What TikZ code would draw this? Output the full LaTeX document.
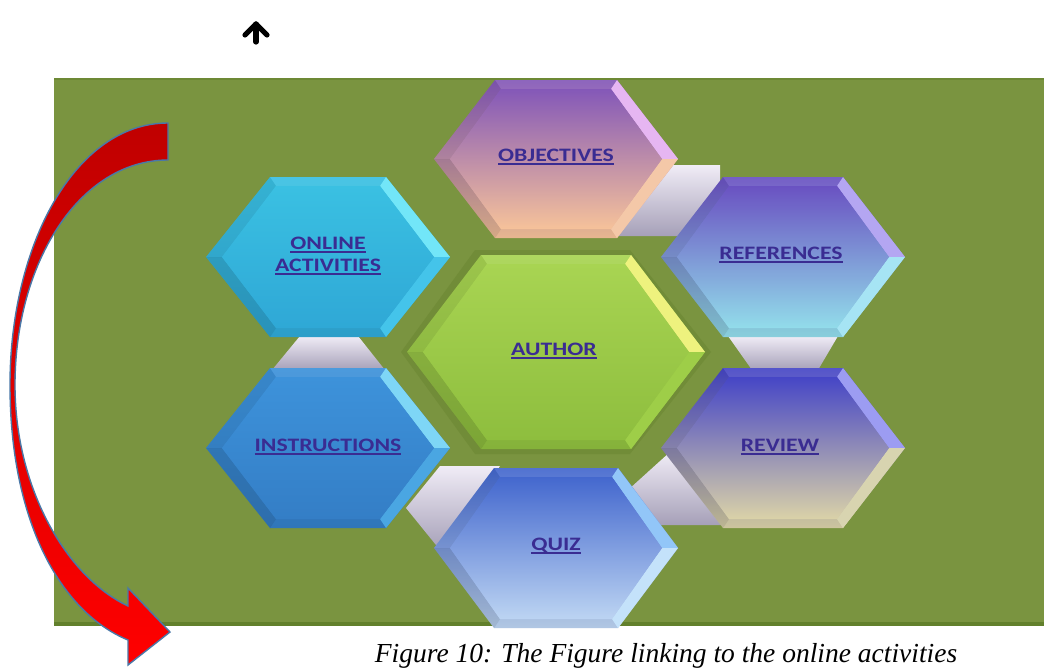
\documentclass[tikz,border=0pt]{standalone}
\usepackage{fontspec}
\setmainfont{Liberation Serif}
\newfontfamily\hexfont[FakeStretch=1.25]{Carlito}
\usetikzlibrary{arrows.meta,calc}
\definecolor{bggreen}{HTML}{7A9440}
\definecolor{bgline}{HTML}{62802C}
\definecolor{lblcol}{HTML}{3A2C92}
\definecolor{brtop}{HTML}{F0ECF6}
\definecolor{brbot}{HTML}{A6A0B8}
\definecolor{arrline}{HTML}{4A78A8}
\definecolor{arrdark}{HTML}{C00000}
\definecolor{arrlight}{HTML}{FF0000}
\definecolor{objT}{HTML}{8458B8}\definecolor{objB}{HTML}{F6C29A}\definecolor{objU}{HTML}{E6B6F2}\definecolor{objL}{HTML}{F4C8A8}
\definecolor{onlT}{HTML}{3AC0E2}\definecolor{onlB}{HTML}{2FA8D6}\definecolor{onlU}{HTML}{72E6F8}\definecolor{onlL}{HTML}{44C4EA}
\definecolor{insT}{HTML}{3D92DA}\definecolor{insB}{HTML}{347EC6}\definecolor{insU}{HTML}{7ED6F6}\definecolor{insL}{HTML}{4AA6E2}
\definecolor{refT}{HTML}{6A52C2}\definecolor{refB}{HTML}{92DCEA}\definecolor{refU}{HTML}{B4A6F2}\definecolor{refL}{HTML}{A6E4F4}
\definecolor{revT}{HTML}{4646C6}\definecolor{revB}{HTML}{DAD2A8}\definecolor{revU}{HTML}{9C9CF2}\definecolor{revL}{HTML}{D8D4B0}
\definecolor{quiT}{HTML}{4468CE}\definecolor{quiB}{HTML}{BCD4F2}\definecolor{quiU}{HTML}{92C6F8}\definecolor{quiL}{HTML}{C4E2FA}
\definecolor{autT}{HTML}{A8D452}\definecolor{autB}{HTML}{8EBE3E}\definecolor{autU}{HTML}{EEF27E}\definecolor{autL}{HTML}{9ECE48}
\definecolor{autS}{HTML}{5E7A26}
% cx cy a b c top bottom upper-right lower-right
\newcommand\hexa[9]{%
  \path[top color=#6,bottom color=#7] ({#1-#3},#2) -- ({#1-#5},{#2-#4}) -- ({#1+#5},{#2-#4}) -- ({#1+#3},#2) -- ({#1+#5},{#2+#4}) -- ({#1-#5},{#2+#4}) -- cycle;
  \fill[black,opacity=.07] ({#1-#3},#2) -- ({#1-#5},{#2-#4}) -- ({#1-#5+6},{#2-#4+9}) -- ({#1-#3+16},#2) -- cycle;
  \fill[black,opacity=.13] ({#1-#3},#2) -- ({#1-#5},{#2+#4}) -- ({#1-#5+6},{#2+#4-9}) -- ({#1-#3+16},#2) -- cycle;
  \fill[black,opacity=.06] ({#1-#5},{#2+#4}) -- ({#1+#5},{#2+#4}) -- ({#1+#5-6},{#2+#4-9}) -- ({#1-#5+6},{#2+#4-9}) -- cycle;
  \fill[white,opacity=.08] ({#1-#5},{#2-#4}) -- ({#1+#5},{#2-#4}) -- ({#1+#5-6},{#2-#4+9}) -- ({#1-#5+6},{#2-#4+9}) -- cycle;
  \fill[#8] ({#1+#5},{#2-#4}) -- ({#1+#3},#2) -- ({#1+#3-16},#2) -- ({#1+#5-6},{#2-#4+9}) -- cycle;
  \fill[#9] ({#1+#3},#2) -- ({#1+#5},{#2+#4}) -- ({#1+#5-6},{#2+#4-9}) -- ({#1+#3-16},#2) -- cycle;
  \path[top color=#6,bottom color=#7] ({#1-#3+16},#2) -- ({#1-#5+6},{#2-#4+9}) -- ({#1+#5-6},{#2-#4+9}) -- ({#1+#3-16},#2) -- ({#1+#5-6},{#2+#4-9}) -- ({#1-#5+6},{#2+#4-9}) -- cycle;
}
\newcommand\hexul[1]{\setbox0\hbox{#1}\rlap{\rule[-3.2pt]{\wd0}{1.8pt}}\box0}
\tikzset{
  hexlabel/.style={font=\hexfont\bfseries\fontsize{19}{22}\selectfont, text=lblcol, align=center, inner sep=0pt},
  bridge/.style={top color=brtop, bottom color=brbot},
}
\begin{document}
\begin{tikzpicture}[x=1pt,y=-1pt]
\useasboundingbox (0,0) rectangle (1044,669);
\fill[white] (0,0) rectangle (1044,669);
% green panel
\fill[bggreen] (54,78) rectangle (1044,625);
\fill[bgline] (54,622) rectangle (1044,626);
\fill[bgline,opacity=.5] (54,78) rectangle (1044,80);
% bridges (grey-lavender sides)
\path[bridge] (640,165) -- (720,165) -- (720,236) -- (600,236) -- cycle;
\path[bridge] (300,336) -- (358,336) -- (385,370) -- (272,370) -- cycle;
\path[bridge] (728,336) -- (838,336) -- (818,370) -- (752,370) -- cycle;
\path[bridge] (440,466) -- (500,466) -- (440,550) -- (406,508) -- cycle;
\path[bridge] (670,452) -- (735,452) -- (735,525) -- (660,525) -- (628,490) -- cycle;
% author shadow
\fill[autS,opacity=.3] (401,352) -- (475,250) -- (630,250) -- (711,352) -- (630,454) -- (475,454) -- cycle;
% hexagons
\hexa{556}{159}{122}{79}{61}{objT}{objB}{objU}{objL}
\hexa{328}{257}{122}{80}{58}{onlT}{onlB}{onlU}{onlL}
\hexa{328}{448}{122}{80}{58}{insT}{insB}{insU}{insL}
\hexa{783}{257}{122}{80}{60}{refT}{refB}{refU}{refL}
\hexa{783}{448}{122}{80}{60}{revT}{revB}{revU}{revL}
\hexa{556}{548}{122}{80}{62}{quiT}{quiB}{quiU}{quiL}
\hexa{556}{352}{149}{97}{75}{autT}{autB}{autU}{autL}
% labels
\node[hexlabel] (objectives) at (556,157) {\hexul{OBJECTIVES}};
\node[hexlabel] (online) at (328,256) {\hexul{ONLINE}\\\hexul{ACTIVITIES}};
\node[hexlabel] (references) at (781,255) {\hexul{REFERENCES}};
\node[hexlabel] (author) at (554,351) {\hexul{AUTHOR}};
\node[hexlabel] (instructions) at (328,447) {\hexul{INSTRUCTIONS}};
\node[hexlabel] (review) at (780,447) {\hexul{REVIEW}};
\node[hexlabel] (quiz) at (556,546) {\hexul{QUIZ}};
% red curved arrow
\path[top color=arrdark, bottom color=arrlight, draw=arrline, line width=1.4pt, line join=miter]
  (168,123) .. controls (75,123) and (10,245) .. (10,385)
  .. controls (10,520) and (60,612) .. (128,640)
  -- (128,665) -- (170,632) -- (128,588) -- (128,606)
  .. controls (68,578) and (15,490) .. (15,385)
  .. controls (15,262) and (80,160) .. (168,160) -- cycle;
% small black up arrow
\coordinate (upS) at (256,42);
\coordinate (upE) at (256,24);
\coordinate (upL) at (245,35);
\coordinate (upR) at (267,35);
\draw[line width=5.2pt, line cap=round, line join=round] (upS) -- (upE);
\draw[line width=5.2pt, line cap=round, line join=round] (upL) -- (upE) -- (upR);
% caption
\node[anchor=base, font=\itshape\fontsize{27.5}{32}\selectfont, inner sep=0pt] (caption) at (666,662) {Figure 10: The Figure linking to the online activities};
\end{tikzpicture}
\end{document}
